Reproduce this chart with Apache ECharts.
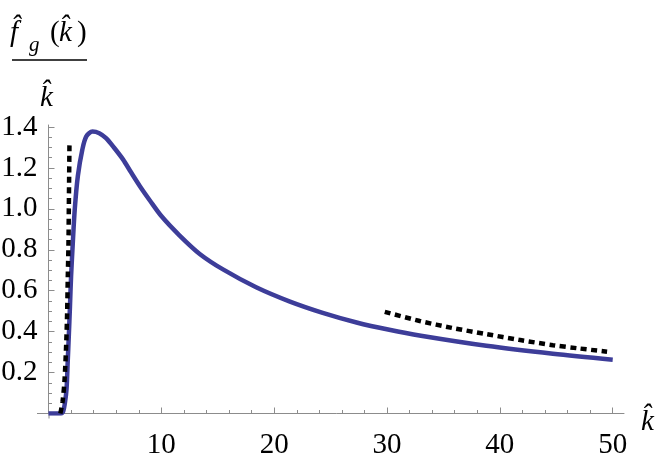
<!DOCTYPE html>
<html>
<head>
<meta charset="utf-8">
<script src="https://cdn.jsdelivr.net/npm/echarts@6/dist/echarts.min.js"></script>
<style>
html, body { margin: 0; padding: 0; background: #fff; }
#chart { width: 664px; height: 461px; }
</style>
</head>
<body>
<div id="chart"></div>
<script>
// f_g(k)/k, solid blue curve
const curveK = [0, 1.1, 1.3, 1.45, 1.6, 1.7, 1.8, 1.9, 2.0, 2.15, 2.33, 2.6, 3.0, 3.35, 3.9, 4.5, 5.1, 5.8, 6.6, 7.3, 8.1, 9.0, 10, 11.6, 13.4, 15.5, 18.4, 21.4, 24.3, 27.3, 30.2, 33, 38.8, 44.7, 50]
const curveV = [0, 0, 0.01, 0.05, 0.12, 0.25, 0.38, 0.52, 0.67, 0.83, 1.0, 1.16, 1.29, 1.354, 1.378, 1.37, 1.346, 1.3, 1.242, 1.18, 1.111, 1.04, 0.965, 0.871, 0.78, 0.703, 0.617, 0.547, 0.492, 0.445, 0.409, 0.38, 0.331, 0.292, 0.263]
// small k asymptote (dashed)
const lowK = [1.05, 1.25, 1.42, 1.57, 1.65, 1.71, 1.77, 1.8, 1.83, 1.86]
const lowV = [0, 0.06, 0.163, 0.343, 0.49, 0.67, 0.83, 1.0, 1.16, 1.33]
// large k asymptote (dashed)
const highK = [29.8, 32.9, 35.8, 38.8, 41.7, 44.7, 47, 49.5]
const highV = [0.497, 0.452, 0.418, 0.388, 0.36, 0.334, 0.318, 0.302]

const xTicks = [10, 20, 30, 40, 50]
const xMinor = [2, 4, 6, 8, 12, 14, 16, 18, 22, 24, 26, 28, 32, 34, 36, 38, 42, 44, 46, 48]
const yTicks = [0.2, 0.4, 0.6, 0.8, 1.0, 1.2, 1.4]
const yMinor = [0.05, 0.1, 0.15, 0.25, 0.3, 0.35, 0.45, 0.5, 0.55, 0.65, 0.7, 0.75, 0.85, 0.9, 0.95, 1.05, 1.1, 1.15, 1.25, 1.3, 1.35]

const axisGray = '#8c8c8c'
const serif = 'Liberation Serif'

function pairs(xs, ys) {
  let arr = []
  for (let i = 0; i < xs.length; i++) {
    arr.push([xs[i], ys[i]])
  }
  return arr
}

function xAxisOf(ticks, len, main) {
  return {
    type: 'value',
    min: 0,
    max: 51,
    position: 'bottom',
    axisLine: {show: main, onZero: false, lineStyle: {color: axisGray, width: 1}},
    axisTick: {show: true, inside: true, length: len, customValues: ticks, lineStyle: {color: axisGray, width: 1}},
    axisLabel: main ? {customValues: ticks, fontFamily: serif, fontSize: 29, color: '#000', margin: 17} : {show: false},
    splitLine: {show: false},
    name: main ? 'k\u0302' : '',
    nameLocation: 'end',
    nameGap: 17,
    nameTextStyle: {fontFamily: serif, fontStyle: 'italic', fontSize: 29, color: '#000', verticalAlign: 'top', padding: [-6, 0, 0, 0]}
  }
}

function yAxisOf(ticks, len, main) {
  return {
    type: 'value',
    min: 0,
    max: 1.41,
    position: 'left',
    axisLine: {show: main, onZero: false, lineStyle: {color: axisGray, width: 1}},
    axisTick: {show: true, inside: true, length: len, customValues: ticks, lineStyle: {color: axisGray, width: 1}},
    axisLabel: main ? {customValues: ticks, fontFamily: serif, fontSize: 29, color: '#000', margin: 11,
      formatter: function(v) { return v.toFixed(1) }} : {show: false},
    splitLine: {show: false}
  }
}

function titleText(str, x, y, size, italic) {
  return {
    type: 'text',
    x: x,
    y: y,
    style: {
      text: str,
      font: (italic ? 'italic ' : '') + size + 'px "' + serif + '"',
      fill: '#000',
      align: 'left',
      verticalAlign: 'middle'
    }
  }
}

function axisStub(x1, y1, x2, y2) {
  return {type: 'line', shape: {x1: x1, y1: y1, x2: x2, y2: y2}, style: {stroke: axisGray, lineWidth: 1}}
}

let option = {
  animation: false,
  backgroundColor: '#fff',
  grid: {left: 48.5, right: 40, top: 125, bottom: 47.5, containLabel: false, outerBoundsMode: 'none'},
  xAxis: [xAxisOf(xTicks, 6, true), xAxisOf(xMinor, 3.5, false)],
  yAxis: [yAxisOf(yTicks, 6, true), yAxisOf(yMinor, 3.5, false)],
  graphic: [
    titleText('f\u0302', 10, 33, 29, true),
    titleText('g', 29, 45, 21, true),
    titleText('(', 50, 33, 29, false),
    titleText('k\u0302', 59, 33, 29, true),
    titleText(')', 77, 33, 29, false),
    {type: 'line', shape: {x1: 12, y1: 60, x2: 87, y2: 60}, style: {stroke: '#000', lineWidth: 1.5}},
    titleText('k\u0302', 40, 98, 29, true),
    axisStub(37, 413.5, 48.5, 413.5),
    axisStub(49, 413.5, 49, 418.5)
  ],
  series: [
    {
      type: 'line',
      data: pairs(curveK, curveV),
      smooth: 0.3,
      showSymbol: false,
      lineStyle: {color: '#3d3d99', width: 4.5}
    },
    {
      type: 'line',
      data: pairs(lowK, lowV),
      smooth: 0.3,
      showSymbol: false,
      lineStyle: {color: '#000', width: 4.5, type: [6, 4.5], cap: 'butt'}
    },
    {
      type: 'line',
      data: pairs(highK, highV),
      smooth: 0.3,
      showSymbol: false,
      lineStyle: {color: '#000', width: 4.5, type: [6, 4.5], cap: 'butt'}
    }
  ]
}

let myChart = echarts.init(document.getElementById('chart'), null, {renderer: 'canvas'})
myChart.setOption(option)
</script>
</body>
</html>
